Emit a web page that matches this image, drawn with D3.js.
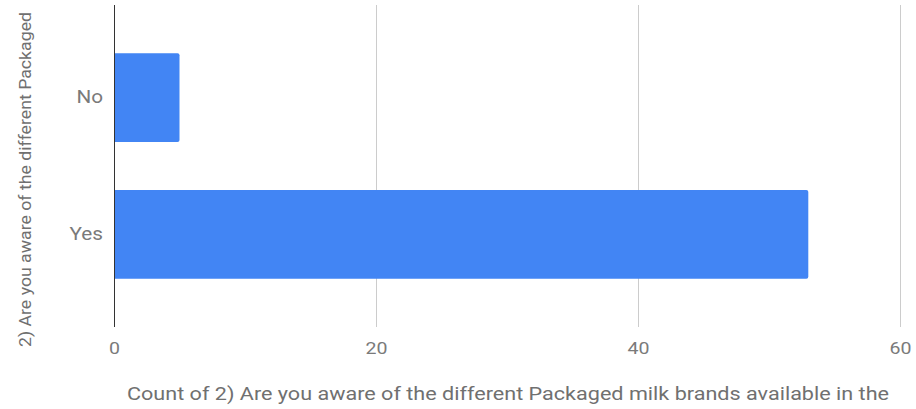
<!DOCTYPE html>
<html>
<head>
<meta charset="utf-8">
<script src="https://cdn.jsdelivr.net/npm/d3@7"></script>
<style>
  body { margin: 0; background: #fff; }
  text { font-family: Roboto, "Noto Sans", sans-serif; }
</style>
</head>
<body>
<svg id="drawing_region"></svg>
<script>
// answers and how many people gave each
const categories = ['No', 'Yes'];
const counts = [5, 53];
const xTicks = [0, 20, 40, 60];
const xTitle = 'Count of 2) Are you aware of the different Packaged milk brands available in the';
const yTitle = '2) Are you aware of the different Packaged';

const data = categories.map((c, i) => ({ label: c, value: counts[i] }));

const config = {
    width: 916,
    height: 409,
    margin: { top: 5, right: 15, bottom: 82, left: 114 }
};

const svg = d3.select('#drawing_region')
    .attr('width', config.width)
    .attr('height', config.height);

const inner_width = config.width - config.margin.left - config.margin.right;
const inner_height = config.height - config.margin.top - config.margin.bottom;

const chart = svg.append('g')
    .attr('transform', `translate(${config.margin.left}, ${config.margin.top})`);

const xscale = d3.scaleLinear()
    .domain([0, 60])
    .range([0, inner_width - 1]);

const yscale = d3.scaleBand()
    .domain(categories)
    .range([0, inner_height])
    .paddingInner(0.35)
    .paddingOuter(0.354);

// text in the picture is a bit wider than plain Roboto
function stretch(sel, k) {
    sel.each(function() {
        const w = this.getComputedTextLength();
        d3.select(this)
            .attr('textLength', w * k)
            .attr('lengthAdjust', 'spacingAndGlyphs');
    });
}

// gridlines
chart.selectAll('.grid')
    .data(xTicks.slice(1))
    .join('line')
    .attr('class', 'grid')
    .attr('x1', d => Math.round(xscale(d)) + 0.5)
    .attr('x2', d => Math.round(xscale(d)) + 0.5)
    .attr('y1', 0)
    .attr('y2', inner_height)
    .attr('stroke', '#cccccc')
    .attr('stroke-width', 1);

// bars with slightly rounded right end
const r = 2;
chart.selectAll('.bar')
    .data(data)
    .join('path')
    .attr('class', 'bar')
    .attr('fill', '#4285f4')
    .attr('d', d => {
        const x0 = xscale(0), x1 = xscale(d.value);
        const y0 = yscale(d.label), y1 = y0 + yscale.bandwidth();
        return `M${x0},${y0}H${x1 - r}Q${x1},${y0} ${x1},${y0 + r}V${y1 - r}Q${x1},${y1} ${x1 - r},${y1}H${x0}Z`;
    });

// zero line
chart.append('line')
    .attr('x1', 0.5).attr('x2', 0.5)
    .attr('y1', 0).attr('y2', inner_height)
    .attr('stroke', '#333333')
    .attr('stroke-width', 1);

// x axis labels
const xaxis = d3.axisBottom(xscale)
    .tickValues(xTicks)
    .tickSize(0)
    .tickPadding(15);

const xaxis_group = chart.append('g')
    .attr('transform', `translate(0, ${inner_height})`)
    .call(xaxis);
xaxis_group.select('.domain').remove();
xaxis_group.selectAll('text')
    .attr('fill', '#7a7a7a')
    .style('font-size', '17px')
    .call(stretch, 1.15);

// y axis labels
const yaxis = d3.axisLeft(yscale)
    .tickSize(0)
    .tickPadding(11);

const yaxis_group = chart.append('g')
    .call(yaxis);
yaxis_group.select('.domain').remove();
yaxis_group.selectAll('text')
    .attr('fill', '#7a7a7a')
    .style('font-size', '18px')
    .call(stretch, 1.15);

// axis titles
svg.append('text')
    .attr('x', 508)
    .attr('y', 400)
    .attr('text-anchor', 'middle')
    .attr('fill', '#707070')
    .style('font-size', '18px')
    .attr('textLength', 762)
    .attr('lengthAdjust', 'spacingAndGlyphs')
    .text(xTitle);

svg.append('text')
    .attr('transform', 'translate(31, 347) rotate(-90)')
    .attr('text-anchor', 'start')
    .attr('fill', '#707070')
    .style('font-size', '16px')
    .attr('textLength', 335)
    .attr('lengthAdjust', 'spacingAndGlyphs')
    .text(yTitle);
</script>
</body>
</html>
